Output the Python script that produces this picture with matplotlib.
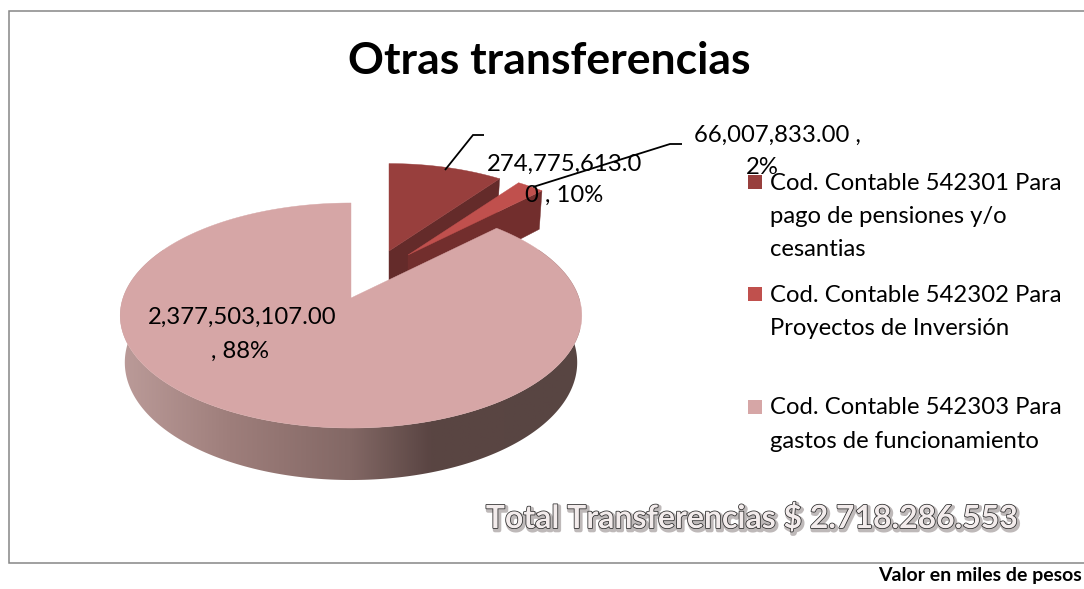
import numpy as np
import matplotlib
matplotlib.use("Agg")
import matplotlib.pyplot as plt
from matplotlib.patches import Polygon, Rectangle
from matplotlib.colors import to_rgb, LinearSegmentedColormap
import matplotlib.patheffects as pe

title = "Otras transferencias"
categories = ["Cod. Contable 542301 Para\npago de pensiones y/o\ncesantias",
              "Cod. Contable 542302 Para\nProyectos de Inversión",
              "Cod. Contable 542303 Para\ngastos de funcionamiento"]
values = [274775613.00, 66007833.00, 2377503107.00]
percent_labels = ["10%", "2%", "88%"]
total_text = "Total Transferencias $ 2.718.286.553"
note_text = "Valor en miles de pesos"
colors = ["#983F3D", "#C0504D", "#D6A6A6"]
side_colors = ["#642B2A", "#722E2D"]

plt.rcParams["font.family"] = ["Lato", "DejaVu Sans"]
fig = plt.figure(figsize=(10.84, 5.89), dpi=100)
ax = fig.add_axes([0, 0, 1, 1])
ax.set_xlim(0, 1084)
ax.set_ylim(589, 0)
ax.axis("off")

ax.add_patch(Rectangle((8.5, 10.5), 1090, 552, fc="white", ec="#868686", lw=1.1, clip_on=True))

# projected pie: unit disc -> screen with perspective
X0, Y0, B, A, K, D = 351.0, 298.0, 228.0, 109.8, 0.1556, 46.0

def top_pt(th, r=1.0, off=(0, 0), s=1.0):
    u, v = r * np.sin(th), r * np.cos(th)
    den = 1 + K * v
    return X0 + off[0] + s * B * u / den, Y0 + off[1] - s * A * v / den

def low_pt(th, r=1.0, off=(0, 0), s=1.0):
    x, y = top_pt(th, r, off, s)
    v = r * np.cos(th)
    cx = X0 + off[0]
    return cx + (x - cx) * 0.98, y + D * (1 - 0.13 * v) * s

fr = np.array(values) / sum(values)
edges = np.concatenate([[0], np.cumsum(fr)]) * 2 * np.pi


def top_poly(i, off, s):
    th = np.linspace(edges[i], edges[i + 1], 240)
    xs, ys = top_pt(th, 1.0, off, s)
    a = top_pt(0.0, 0.0, off, s)
    return np.column_stack([np.r_[a[0], xs], np.r_[a[1], ys]])


def radial_face(th, off, s, color, z):
    a, b = top_pt(th, 0.0, off, s), top_pt(th, 1.0, off, s)
    c, d = low_pt(th, 1.0, off, s), low_pt(th, 0.0, off, s)
    ax.add_patch(Polygon([a, b, c, d], fc=color, ec=color, lw=0.3, zorder=z))


off1, s1 = (38, -47), 0.92
off2, s2 = (57, -43), 0.92

# slice 1
radial_face(edges[1], off1, s1, side_colors[0], 2)
ax.add_patch(Polygon(top_poly(0, off1, s1), fc=colors[0], ec=colors[0], lw=0.3, zorder=3))
# slice 2
radial_face(edges[2], off2, s2, side_colors[1], 4)
ax.add_patch(Polygon(top_poly(1, off2, s2), fc=colors[1], ec=colors[1], lw=0.3, zorder=5))

# slice 3 side with horizontal gradient
grad_x = np.array([118, 230, 350, 430, 580])
grad_c = ["#BC9C9A", "#9E7E7B", "#836865", "#5A4543", "#584542"]
cmap = LinearSegmentedColormap.from_list(
    "side", [((x - 118) / (580 - 118), c) for x, c in zip(grad_x, grad_c)])
ths = np.linspace(edges[2], edges[3], 800)
tx, ty = top_pt(ths)
lx, ly = low_pt(ths)
side_poly = Polygon(np.column_stack([np.r_[tx, lx[::-1]], np.r_[ty, ly[::-1]]]),
                    fc="none", ec="none", transform=ax.transData)
ax.add_patch(side_poly)
im = ax.imshow(np.linspace(0, 1, 512)[None, :], cmap=cmap, extent=(118, 580, 490, 250),
               aspect="auto", zorder=6, interpolation="bilinear")
im.set_clip_path(side_poly)
ax.set_xlim(0, 1084)
ax.set_ylim(589, 0)
ax.add_patch(Polygon(top_poly(2, (0, 0), 1.0), fc=colors[2], ec=colors[2], lw=0.3, zorder=7))

# leader lines
lead_kw = dict(color="black", lw=1.3, zorder=10, solid_capstyle="butt", solid_joinstyle="miter")
ax.plot([445, 473, 484], [170, 135, 135], **lead_kw)
ax.plot([533, 670, 682], [187, 144, 144], **lead_kw)

# data labels
FS = 17.2
lab_kw = dict(fontsize=FS, color="black", ha="center", va="center", zorder=9)
v1 = f"{values[0]:,.2f}"
ax.text(565, 164, v1[:-1], **lab_kw)
ax.text(564, 195, f"{v1[-1]} , {percent_labels[0]}", **lab_kw)
ax.text(777, 135, f"{values[1]:,.2f} ,", **lab_kw)
ax.text(762, 167, percent_labels[1], **lab_kw)
ax.text(242, 317, f"{values[2]:,.2f}", **lab_kw)
ax.text(240, 351, f", {percent_labels[2]}", **lab_kw)

# legend
leg_y = [182, 294, 407]
for cat, col, y in zip(categories, colors, leg_y):
    ax.add_patch(Rectangle((748, y - 7), 14, 14, fc=col, ec="none", zorder=8))
    for n, line in enumerate(cat.split("\n")):
        ax.text(770, y + 1 + n * 33.5, line, fontsize=FS, color="black", ha="left", va="center", zorder=9)

ax.text(549.5, 61, title, fontsize=32, fontweight="bold", color="black", ha="center", va="center", zorder=9)

t = ax.text(752.5, 518, total_text, fontsize=23, fontweight="bold", color="#F3ECEC", ha="center", va="center", zorder=9)
t.set_path_effects([pe.SimpleLineShadow(offset=(1.2, -1.6), shadow_color="#8A8080", alpha=0.55, linewidth=3.0),
                    pe.withStroke(linewidth=1.1, foreground="#2A2A2A")])

ax.text(878, 575, note_text, fontsize=14, fontweight="bold", color="black", ha="left", va="center", zorder=9)

fig.savefig("out.png", dpi=100)
